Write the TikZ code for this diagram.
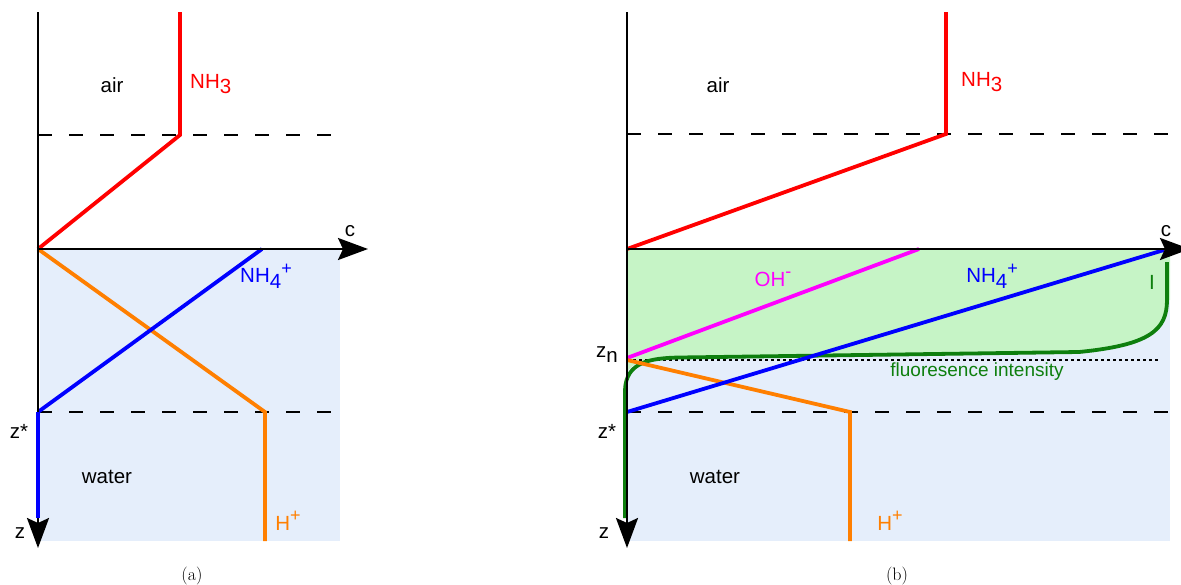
\documentclass[tikz,border=0pt]{standalone}
\usepackage{fontspec}
\usepackage{xcolor}
\usepackage{tikz}
\usetikzlibrary{arrows.meta}
\newfontfamily\labelfont{Liberation Sans}
\definecolor{PRed}{HTML}{FF0000}
\definecolor{PBlue}{HTML}{0000FF}
\definecolor{POrange}{HTML}{FF7F00}
\definecolor{PMagenta}{HTML}{FF00FF}
\definecolor{PGreen}{HTML}{0E7F0E}
\definecolor{PFill}{HTML}{C6F4C6}
\definecolor{PWater}{HTML}{E5EEFB}
\newcommand{\lowr}[1]{\raisebox{-0.25em}{#1}}
\newcommand{\highr}[1]{\raisebox{0.42em}{\fontsize{18}{18}\selectfont #1}}

\begin{document}
\begin{tikzpicture}[x=1pt, y=-1pt,
  every node/.style={font=\labelfont\fontsize{20.5}{24}\selectfont, inner sep=0pt},
  axisline/.style={line width=2.5pt, -{Stealth[length=30pt,width=22pt,inset=5pt]}},
  boundary/.style={line width=2.6pt, dash pattern=on 14pt off 17pt},
  profile/.style={line width=3.8pt},
  caplabel/.style={font=\rmfamily\fontsize{18}{20}\selectfont}]
\useasboundingbox (0,0) rectangle (1181,584);
% water regions
\fill[PWater] (40,250) rectangle (340,541);
\fill[PWater] (627,250) rectangle (1170,541);
\fill[PFill] (627,250) -- (1170,250) -- (1170,300) -- (1167,300)
  .. controls (1167,330) and (1150,345) .. (1079,352) -- (680,357.5)
  .. controls (650,358) and (632,362) .. (627,372) -- cycle;
% key points, panel (a)
\coordinate (aTop) at (38,12);
\coordinate (aEnd) at (38,548);
\coordinate (aO) at (38,249);
\coordinate (aC) at (368,249);
\coordinate (aAir) at (38,135);
\coordinate (aAirR) at (337,135);
\coordinate (aZs) at (38,412);
\coordinate (aZsR) at (337,412);
% key points, panel (b)
\coordinate (bTop) at (627,12);
\coordinate (bEnd) at (627,548);
\coordinate (bO) at (627,249);
\coordinate (bC) at (1190,249);
\coordinate (bAir) at (627,134);
\coordinate (bAirR) at (1170,134);
\coordinate (bZs) at (627,412);
\coordinate (bZsR) at (1170,412);
\coordinate (bZn) at (627,360);
\coordinate (bZnR) at (1160,360);
% film boundaries
\draw[boundary] (aAir) -- (aAirR);
\draw[boundary] (aZs) -- (aZsR);
\draw[boundary] (bAir) -- (bAirR);
\draw[boundary] (bZs) -- (bZsR);
\draw[line width=2pt, dash pattern=on 3pt off 3pt] (bZn) -- (bZnR);
% fluorescence intensity
\draw[profile, PGreen] (1167,262) -- (1167,300)
  .. controls (1167,330) and (1150,345) .. (1079,352) -- (680,357.5)
  .. controls (650,358) and (626,362) .. (625,390) -- (625,518);
% profiles (a)
\draw[profile, PRed] (180,12) -- (180,135) -- (aO);
\draw[profile, POrange] (aO) -- (265,412) -- (265,541);
\draw[profile, PBlue] (aZs) -- (262,249);
% profiles (b)
\draw[profile, PRed] (946,12) -- (946,134) -- (bO);
\draw[profile, PMagenta] (627,358) -- (919,249);
\draw[profile, POrange] (bZn) -- (850,412) -- (850,541);
\draw[profile, PBlue] (bZs) -- (1164,250);
% axes
\draw[axisline] (aTop) -- (aEnd);
\draw[axisline] (aO) -- (aC);
\draw[axisline] (bTop) -- (bEnd);
\draw[axisline] (bO) -- (bC);
\draw[profile, PBlue] (38,518) -- (aZs);
% labels (a)
\node (airA) at (112,85) {air};
\node[anchor=west, text=PRed] (nhA) at (190,84) {NH\lowr{3}};
\node (cA) at (350,231) {c};
\node[text=PBlue] (nhfA) at (266,276) {NH\lowr{4}\highr{+}};
\node[text=POrange] (hA) at (288,521) {H\highr{+}};
\node (zsA) at (19,431) {z*};
\node (zA) at (20,533) {z};
\node (waterA) at (107,477) {water};
\node[caplabel] (capA) at (192,576) {(a)};
% labels (b)
\node (airB) at (718,85) {air};
\node[anchor=west, text=PRed] (nhB) at (961,82) {NH\lowr{3}};
\node (cB) at (1166,231) {c};
\node[text=PMagenta] (ohB) at (773,279) {OH\highr{-}};
\node[text=PBlue] (nhfB) at (992,276) {NH\lowr{4}\highr{+}};
\node[text=PGreen] (iB) at (1152,282) {I};
\node (znB) at (607,355) {z\lowr{n}};
\node[text=PGreen, font=\labelfont\fontsize{19}{22}\selectfont] (flB) at (977,372) {fluoresence intensity};
\node (zsB) at (607,431) {z*};
\node (zB) at (604,533) {z};
\node (waterB) at (715,477) {water};
\node[text=POrange] (hB) at (890,521) {H\highr{+}};
\node[caplabel] (capB) at (897,576) {(b)};
\end{tikzpicture}
\end{document}
